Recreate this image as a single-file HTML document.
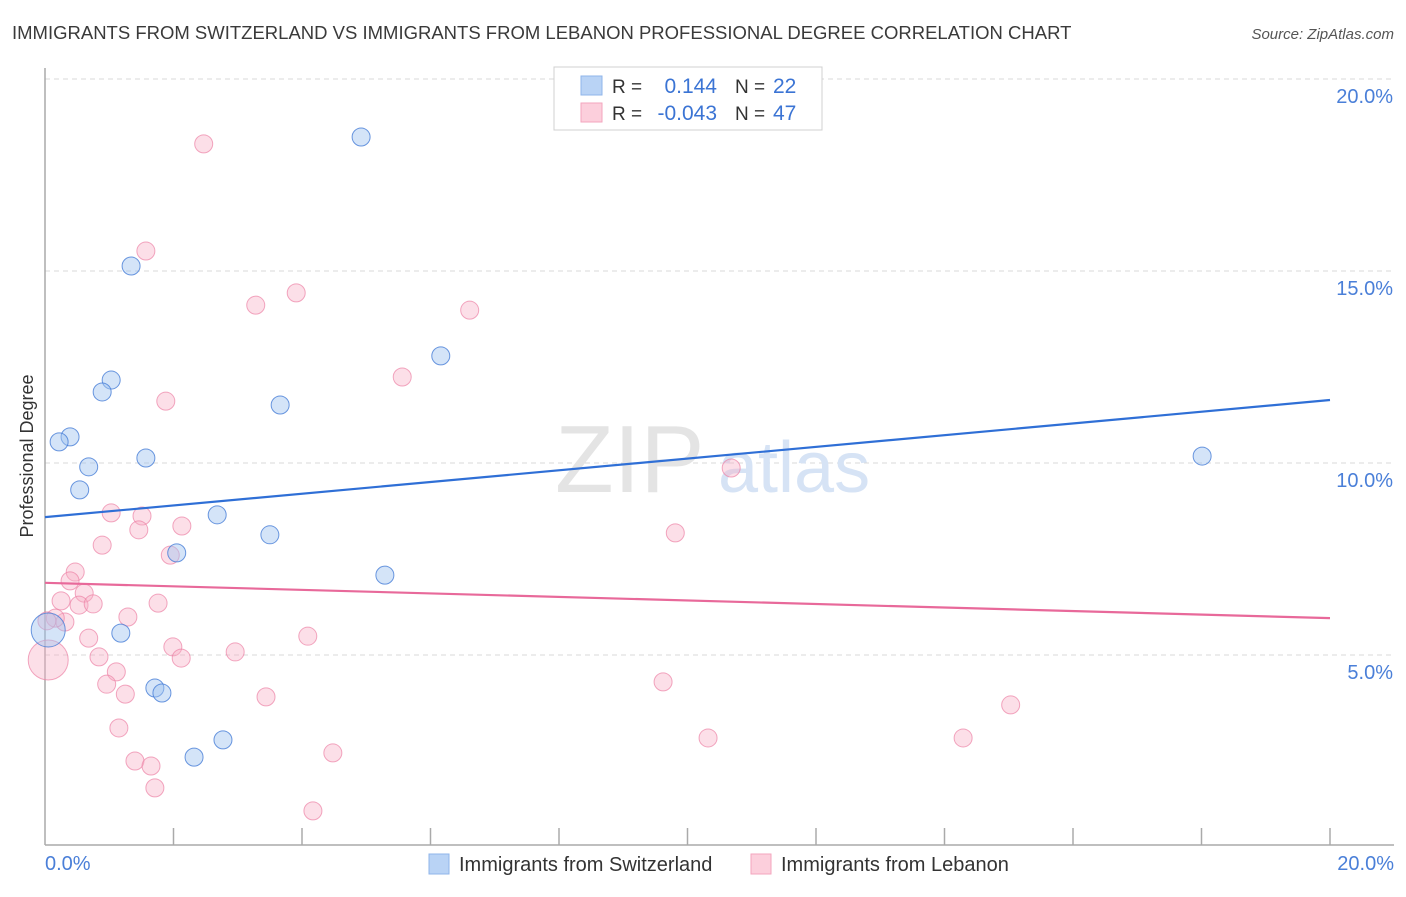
<!DOCTYPE html>
<html><head><meta charset="utf-8"><style>
body{margin:0;background:#fff;font-family:"Liberation Sans",sans-serif;}
svg text{font-family:"Liberation Sans",sans-serif;}
</style></head><body>
<svg id="chart" width="1406" height="892" viewBox="0 0 1406 892" xmlns="http://www.w3.org/2000/svg">
<text x="12" y="39" font-size="18.5" fill="#3a3a3a">IMMIGRANTS FROM SWITZERLAND VS IMMIGRANTS FROM LEBANON PROFESSIONAL DEGREE CORRELATION CHART</text>
<text x="1394" y="39" font-size="15" fill="#555" font-style="italic" text-anchor="end">Source: ZipAtlas.com</text>
<g id="grid"></g>
<text x="555" y="492" font-size="96" fill="#e4e4e4" font-family="Liberation Serif">ZIP</text>
<text x="718" y="492" font-size="72" fill="#d6e3f5">atlas</text>
<g id="axes"></g>
<g id="points"></g>
<g id="trends"></g>
<text transform="translate(33,456) rotate(-90)" font-size="18" fill="#333" text-anchor="middle">Professional Degree</text>
<text x="45" y="870" font-size="20" fill="#4a7fd8">0.0%</text>
<text x="1394" y="870" font-size="20" fill="#4a7fd8" text-anchor="end">20.0%</text>
<g>
<rect x="554" y="67" width="268" height="63" fill="#fff" stroke="#d0d0d0"/>
<rect x="581" y="76" width="21" height="19" fill="#b9d3f5" stroke="#8fb4ea"/>
<rect x="581" y="103" width="21" height="19" fill="#fccfdc" stroke="#f3a6be"/>
<text x="612" y="93" font-size="19" fill="#333">R =</text>
<text x="717" y="93" font-size="21" fill="#3b74d4" text-anchor="end">0.144</text>
<text x="735" y="93" font-size="19" fill="#333">N =</text>
<text x="773" y="93" font-size="21" fill="#3b74d4">22</text>
<text x="612" y="120" font-size="19" fill="#333">R =</text>
<text x="717" y="120" font-size="21" fill="#3b74d4" text-anchor="end">-0.043</text>
<text x="735" y="120" font-size="19" fill="#333">N =</text>
<text x="773" y="120" font-size="21" fill="#3b74d4">47</text>
</g>
<g>
<rect x="429" y="854" width="20" height="20" fill="#b9d3f5" stroke="#8fb4ea"/>
<text x="459" y="871" font-size="20" fill="#333">Immigrants from Switzerland</text>
</g>
<g>
<rect x="751" y="854" width="20" height="20" fill="#fccfdc" stroke="#f3a6be"/>
<text x="781" y="871" font-size="20" fill="#333">Immigrants from Lebanon</text>
</g>
</svg>
<script>
const yTicks=[5,10,15,20];
const yTickLabels=["5.0%","10.0%","15.0%","20.0%"];
const blueX=[4.92,1.34,1.03,0.89,6.16,3.66,0.39,0.22,0.68,1.57,0.54,2.68,3.50,2.05,5.29,1.18,1.71,1.82,2.77,2.32,18.01,0.05];
const blueY=[18.49,15.13,12.16,11.85,12.79,11.51,10.68,10.55,9.90,10.13,9.30,8.65,8.13,7.66,7.08,5.57,4.14,4.01,2.79,2.34,10.18,5.65];
const blueR=[9,9,9,9,9,9,9,9,9,9,9,9,9,9,9,9,9,9,9,9,9,17];
const pinkX=[2.47,1.57,3.28,3.91,6.61,5.56,1.88,10.68,1.03,1.51,2.13,1.46,0.89,1.95,9.81,0.47,0.39,0.25,0.61,0.53,0.75,1.29,1.76,0.31,0.16,0.03,0.68,4.09,1.99,2.96,0.84,2.12,1.11,0.96,1.25,3.44,9.62,1.15,1.40,1.65,4.48,1.71,4.17,10.32,14.29,15.03,0.05];
const pinkY=[18.31,15.52,14.11,14.43,13.98,12.24,11.61,9.87,8.70,8.62,8.36,8.26,7.86,7.60,8.18,7.16,6.93,6.41,6.61,6.30,6.33,5.99,6.35,5.86,5.96,5.89,5.44,5.49,5.21,5.08,4.95,4.92,4.56,4.24,3.98,3.91,4.30,3.10,2.24,2.11,2.45,1.54,0.94,2.84,2.84,3.70,4.87];
const blueTrend=[8.59,11.64];
const pinkTrend=[6.88,5.96];
const NS="http://www.w3.org/2000/svg";
const X0=45,X1=1330,Y0=847,PXPCT=38.4;
const sx=v=>X0+v*(X1-X0)/20;
const sy=v=>Y0-v*PXPCT;
function mk(tag,attrs,parent){const e=document.createElementNS(NS,tag);for(const k in attrs)e.setAttribute(k,attrs[k]);document.getElementById(parent).appendChild(e);return e;}
yTicks.forEach((t,i)=>{
 const l=mk('line',{x1:X0,x2:1394,y1:sy(t),y2:sy(t),stroke:'#d8d8d8','stroke-dasharray':'5,4'},'grid');
 
 
 const tx=mk('text',{x:1393,y:sy(t)+24,'font-size':20,fill:'#4a7fd8','text-anchor':'end'},'grid');
 tx.textContent=yTickLabels[i];
 
 
});
const ax=mk('line',{x1:X0,x2:X0,y1:68,y2:845,stroke:'#aaa','stroke-width':1.5},'axes');


const bx=mk('line',{x1:X0,x2:1394,y1:845,y2:845,stroke:'#aaa','stroke-width':1.5},'axes');


for(let i=1;i<=10;i++){
 const t=mk('line',{x1:sx(i*2),x2:sx(i*2),y1:828,y2:845,stroke:'#aaa','stroke-width':1.5},'axes');
 
 
}
pinkX.forEach((v,i)=>{
 const c=mk('circle',{cx:sx(v),cy:sy(pinkY[i]),r:i===pinkX.length-1?20:9,fill:'rgba(248,175,198,0.4)',stroke:'rgba(236,130,165,0.7)','stroke-width':1},'points');
 
 
});
blueX.forEach((v,i)=>{
 const c=mk('circle',{cx:sx(v),cy:sy(blueY[i]),r:blueR[i],fill:'rgba(160,195,240,0.45)',stroke:'rgba(70,125,215,0.8)','stroke-width':1},'points');
 
 
});
const tb=mk('line',{x1:sx(0),x2:sx(20),y1:sy(blueTrend[0]),y2:sy(blueTrend[1]),stroke:'#2f6fd6','stroke-width':2.2},'trends');


const tp=mk('line',{x1:sx(0),x2:sx(20),y1:sy(pinkTrend[0]),y2:sy(pinkTrend[1]),stroke:'#e8699a','stroke-width':2.2},'trends');


</script>
</body></html>
